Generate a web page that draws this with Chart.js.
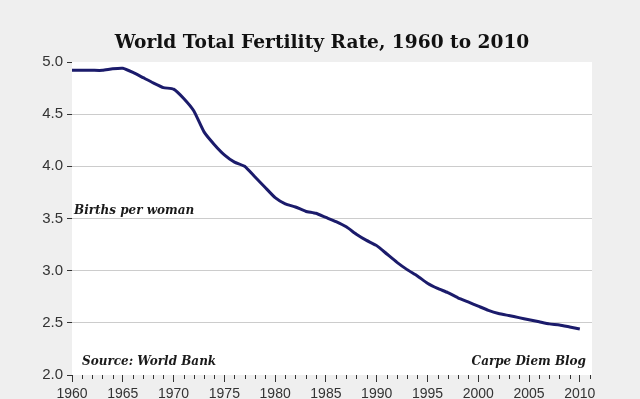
<!DOCTYPE html>
<html>
<head>
<meta charset="utf-8">
<script src="https://cdn.jsdelivr.net/npm/chart.js@4.4.0/dist/chart.umd.min.js"></script>
<style>
  html, body { margin: 0; padding: 0; background: #efefef; }
  #wrap { width: 640px; height: 399px; }
</style>
</head>
<body>
<div id="wrap"><canvas id="myChart" width="640" height="399"></canvas></div>
<script>
// data
const years = [1960,1961,1962,1963,1964,1965,1966,1967,1968,1969,
  1970,1971,1972,1973,1974,1975,1976,1977,1978,1979,
  1980,1981,1982,1983,1984,1985,1986,1987,1988,1989,
  1990,1991,1992,1993,1994,1995,1996,1997,1998,1999,
  2000,2001,2002,2003,2004,2005,2006,2007,2008,2009,2010];
const tfr = [4.92,4.92,4.92,4.92,4.935,4.94,4.90,4.85,4.80,4.755,
  4.74,4.65,4.53,4.33,4.21,4.11,4.04,4.00,3.90,3.80,
  3.70,3.64,3.61,3.57,3.55,3.51,3.47,3.42,3.35,3.29,
  3.24,3.16,3.08,3.01,2.95,2.88,2.83,2.79,2.74,2.70,
  2.66,2.62,2.59,2.57,2.55,2.53,2.51,2.49,2.48,2.46,2.44];
const yTicks = [2.0,2.5,3.0,3.5,4.0,4.5,5.0];
const xTicks = [1960,1965,1970,1975,1980,1985,1990,1995,2000,2005,2010];
const minorYears = [];
for (let y = 1960; y <= 2011; y++) minorYears.push(y);

const titleText = 'World Total Fertility Rate, 1960 to 2010';
const unitText = 'Births per woman';
const sourceText = 'Source: World Bank';
const blogText = 'Carpe Diem Blog';

const points = years.map((y, i) => ({x: y, y: tfr[i]}));

// grey page, white plot area, title, minor ticks, notes
const decor = {
  id: 'decor',
  beforeDraw(chart) {
    const c = chart.ctx, a = chart.chartArea;
    c.save();
    c.fillStyle = '#efefef';
    c.fillRect(0, 0, chart.width, chart.height);
    c.fillStyle = '#ffffff';
    c.fillRect(a.left, a.top, a.right - a.left, a.bottom - a.top);
    c.restore();
  },
  afterDraw(chart) {
    const c = chart.ctx, a = chart.chartArea, xs = chart.scales.x;
    c.save();
    c.strokeStyle = '#333';
    c.lineWidth = 1;
    minorYears.forEach(y => {
      if (y % 5 === 0) return;
      const px = Math.round(xs.getPixelForValue(y)) + 0.5;
      c.beginPath();
      c.moveTo(px, a.bottom);
      c.lineTo(px, a.bottom + 4);
      c.stroke();
    });
    c.fillStyle = '#111';
    c.font = 'bold 18.6px "DejaVu Serif"';
    c.textAlign = 'center';
    c.textBaseline = 'alphabetic';
    c.fillText(titleText, 322, 48);
    c.fillStyle = '#1a1a1a';
    c.font = 'italic bold 12px "DejaVu Serif"';
    c.textAlign = 'left';
    c.fillText(unitText, a.left + 2, 214);
    c.fillText(sourceText, a.left + 10, 365);
    c.textAlign = 'right';
    c.fillText(blogText, a.right - 6, 365);
    c.restore();
  }
};

const ctx = document.getElementById('myChart');

new Chart(ctx, {
  type: 'line',
  data: {
    datasets: [{
      data: points,
      borderColor: '#1b1b6b',
      borderWidth: 3,
      pointRadius: 0,
      tension: 0.15,
      fill: false
    }]
  },
  options: {
    responsive: false,
    animation: false,
    layout: { padding: { left: 0, right: 48, top: 62, bottom: 0 } },
    plugins: {
      legend: { display: false },
      tooltip: { enabled: false },
      title: { display: false }
    },
    scales: {
      x: {
        type: 'linear',
        min: 1960,
        max: 2011.2,
        afterBuildTicks: s => { s.ticks = xTicks.map(v => ({value: v})); },
        afterFit: s => { s.height = 24; },
        border: { display: false },
        grid: { drawOnChartArea: false, tickLength: 7, tickColor: '#333' },
        ticks: {
          padding: 4,
          maxRotation: 0,
          autoSkip: false,
          color: '#333',
          font: { family: 'Liberation Sans', size: 14 },
          callback: v => String(v)
        }
      },
      y: {
        min: 2,
        max: 5,
        afterBuildTicks: s => { s.ticks = yTicks.map(v => ({value: v})); },
        afterFit: s => { s.width = 72; },
        border: { display: false },
        grid: {
          color: c => (c.tick && (c.tick.value === 5 || c.tick.value === 2)) ? 'rgba(0,0,0,0)' : '#cccccc',
          tickColor: '#333',
          tickLength: 5
        },
        ticks: {
          padding: 4,
          color: '#333',
          font: { family: 'Liberation Sans', size: 15 },
          callback: v => v.toFixed(1)
        }
      }
    }
  },
  plugins: [decor]
});
</script>
</body>
</html>
